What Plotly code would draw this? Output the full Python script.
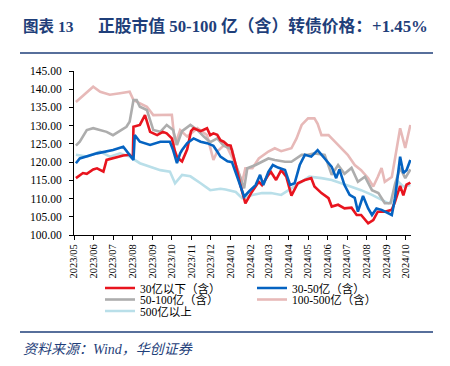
import plotly.graph_objects as go

# ---------------- data ----------------
red_dates = ["2023-05-04","2023-05-10","2023-05-15","2023-05-21","2023-05-31","2023-06-06","2023-06-16","2023-06-21","2023-06-30",
             "2023-07-07","2023-07-17","2023-07-27","2023-08-01","2023-08-02","2023-08-12","2023-08-20","2023-08-28","2023-09-08",
             "2023-09-17","2023-09-23","2023-10-01","2023-10-06","2023-10-09","2023-10-14","2023-10-17","2023-10-25","2023-10-31",
             "2023-11-04","2023-11-15","2023-11-25","2023-11-30","2023-12-05","2023-12-11","2023-12-16","2023-12-21","2023-12-27",
             "2024-01-01","2024-01-09","2024-01-16","2024-01-24","2024-02-02","2024-02-14","2024-02-19","2024-02-29","2024-03-04",
             "2024-03-12","2024-03-20","2024-03-28","2024-04-05","2024-04-15","2024-04-26","2024-05-06","2024-05-11","2024-05-22",
             "2024-06-02","2024-06-07","2024-06-17","2024-06-27","2024-07-08","2024-07-16","2024-07-23","2024-08-03","2024-08-11",
             "2024-08-18","2024-08-29","2024-09-09","2024-09-14","2024-09-22","2024-09-27","2024-10-02","2024-10-08"]
red_vals = [115.6,116.5,117.0,116.8,118.0,118.3,117.4,120.6,121.0,
            121.5,121.8,122.0,121.0,129.7,130.2,132.9,128.3,127.4,
            128.3,127.9,126.5,122.9,121.5,120.6,120.2,123.5,128.5,
            129.3,128.5,129.3,127.4,127.9,127.5,126.0,125.6,124.7,
            124.5,119.2,113.8,108.7,111.5,114.6,113.7,116.5,117.3,
            115.1,117.8,116.0,110.8,114.2,115.1,115.6,113.3,111.5,
            110.1,107.8,108.3,107.3,107.5,105.5,105.5,103.2,104.1,
            106.4,106.4,106.9,109.1,113.5,110.9,113.8,114.4]

blue_dates = ["2023-05-04","2023-05-10","2023-06-06","2023-07-01","2023-07-17","2023-07-27","2023-08-02","2023-08-04","2023-08-12",
              "2023-08-28","2023-09-13","2023-09-28","2023-10-03","2023-10-09","2023-10-14","2023-10-17","2023-10-25","2023-11-04",
              "2023-11-15","2023-11-25","2023-12-05","2023-12-11","2023-12-16","2023-12-27","2024-01-03","2024-01-14","2024-01-22",
              "2024-01-30","2024-02-09","2024-02-16","2024-02-21","2024-02-29","2024-03-07","2024-03-15","2024-03-26","2024-04-03",
              "2024-04-10","2024-04-18","2024-04-26","2024-05-06","2024-05-16","2024-05-27","2024-06-07","2024-06-14","2024-06-19",
              "2024-06-27","2024-07-05","2024-07-13","2024-07-18","2024-07-26","2024-08-03","2024-08-09","2024-08-16","2024-08-24",
              "2024-09-02","2024-09-09","2024-09-14","2024-09-22","2024-09-27","2024-10-02","2024-10-08"]
blue_vals = [119.7,121.0,122.4,123.3,124.2,122.0,120.6,127.4,125.6,
             124.7,125.6,125.6,123.3,119.7,122.4,123.3,125.2,126.5,
             125.6,125.2,124.5,122.9,121.5,120.2,120.0,114.6,110.5,
             112.0,113.7,116.5,113.7,117.3,119.2,118.5,117.8,113.7,
             114.2,119.2,122.0,121.5,123.3,121.0,118.7,115.6,118.0,
             113.7,111.0,110.2,106.4,110.7,107.3,105.5,107.3,106.9,
             106.0,105.5,110.1,121.5,117.0,117.8,120.6]

gray_dates = ["2023-05-04","2023-05-10","2023-05-21","2023-05-31","2023-06-21","2023-07-01","2023-07-22","2023-07-27","2023-08-02",
              "2023-08-07","2023-08-12","2023-08-23","2023-09-02","2023-09-13","2023-09-23","2023-10-03","2023-10-09","2023-10-17",
              "2023-10-30","2023-11-10","2023-11-20","2023-11-30","2023-12-11","2023-12-21","2024-01-03","2024-01-09","2024-01-22",
              "2024-01-27","2024-02-09","2024-02-19","2024-02-29","2024-03-10","2024-03-26","2024-04-05","2024-04-21","2024-05-01",
              "2024-05-11","2024-05-27","2024-06-07","2024-06-17","2024-06-27","2024-07-08","2024-07-18","2024-07-29","2024-08-09",
              "2024-08-19","2024-08-29","2024-09-07","2024-09-14","2024-09-22","2024-09-30","2024-10-08"]
gray_vals = [124.5,125.6,128.8,129.3,128.3,127.4,129.7,131.1,137.0,
             137.0,135.2,134.3,128.8,128.3,130.2,128.8,124.7,128.5,
             130.2,128.8,127.0,125.5,126.5,124.5,123.5,119.2,112.8,
             118.3,119.2,120.1,121.0,120.6,120.1,120.1,122.0,122.0,
             122.4,122.0,116.5,119.2,116.8,118.4,114.6,116.0,112.3,
             111.5,108.7,108.7,114.0,118.4,115.6,118.0]

pink_dates = ["2023-05-04","2023-05-21","2023-05-31","2023-06-11","2023-06-26","2023-07-12","2023-07-27","2023-08-02","2023-08-12",
              "2023-08-23","2023-09-02","2023-09-23","2023-10-01","2023-10-06","2023-10-14","2023-10-25","2023-11-10","2023-11-25",
              "2023-12-05","2023-12-11","2023-12-24","2024-01-09","2024-01-19","2024-01-24","2024-02-04","2024-02-14","2024-02-29",
              "2024-03-10","2024-03-20","2024-04-05","2024-04-13","2024-04-21","2024-05-01","2024-05-11","2024-05-16","2024-05-22",
              "2024-06-02","2024-06-12","2024-06-22","2024-07-02","2024-07-13","2024-07-23","2024-08-03","2024-08-11","2024-08-18",
              "2024-08-24","2024-08-29","2024-09-09","2024-09-14","2024-09-22","2024-09-30","2024-10-08"]
pink_vals = [136.5,139.0,140.7,139.3,138.5,138.9,139.3,137.0,136.1,
             135.2,132.9,132.9,133.0,124.7,128.8,127.0,129.3,127.4,
             120.6,122.9,125.0,119.2,114.6,118.3,118.3,121.0,122.9,
             123.8,123.0,123.8,126.5,130.2,132.0,132.0,130.5,127.4,
             127.4,125.6,123.8,122.0,119.2,117.8,115.6,113.3,115.9,
             118.4,114.6,115.9,121.0,129.3,123.9,130.2]

lblue_dates = ["2023-05-04","2023-05-21","2023-06-11","2023-06-26","2023-07-12","2023-07-27","2023-08-12","2023-08-28","2023-09-13",
               "2023-09-28","2023-10-06","2023-10-17","2023-10-30","2023-11-15","2023-11-30","2023-12-16","2023-12-24","2024-01-09",
               "2024-01-19","2024-02-04","2024-02-19","2024-03-04","2024-03-20","2024-04-05","2024-04-21","2024-05-03","2024-05-22",
               "2024-06-07","2024-06-22","2024-07-08","2024-07-23","2024-08-09","2024-08-24","2024-09-04","2024-09-12","2024-09-19",
               "2024-09-27","2024-10-08"]
lblue_vals = [122.0,121.5,122.9,121.5,122.4,121.5,119.7,118.7,117.8,
              117.4,114.2,116.5,116.1,114.2,112.3,112.7,112.5,111.8,
              110.1,111.0,111.5,111.5,111.0,112.8,114.6,116.0,115.6,
              115.1,114.2,113.3,112.3,111.0,109.6,108.7,109.5,114.6,
              113.3,113.7]

series_names = ["30亿以下（含）", "30-50亿（含）", "50-100亿（含）", "100-500亿（含）", "500亿以上"]
y_tick_vals = [100, 105, 110, 115, 120, 125, 130, 135, 140, 145]
y_tick_text = ["100.00", "105.00", "110.00", "115.00", "120.00", "125.00", "130.00", "135.00", "140.00", "145.00"]

title_label = "<b>图表 13</b>"
title_text = "<b>正股市值 50-100 亿（含）转债价格：+1.45%</b>"
source_text = "<i>资料来源：Wind，华创证券</i>"

# ---------------- figure ----------------
SERIF = "Liberation Serif, Times New Roman, Noto Sans CJK SC, serif"
NAVY = "#1F3F7A"

fig = go.Figure()
data = [
    (red_dates, red_vals, "#E8141E"),
    (blue_dates, blue_vals, "#0563C1"),
    (gray_dates, gray_vals, "#ADADAD"),
    (pink_dates, pink_vals, "#E7B9B8"),
    (lblue_dates, lblue_vals, "#B9DFE9"),
]
legend_of = ["legend", "legend", "legend2", "legend2", "legend3"]
draw_order = [4, 3, 2, 0, 1]
traces = {}
for i, (d, v, c) in enumerate(data):
    traces[i] = go.Scatter(x=d, y=v, mode="lines", name=series_names[i],
                           line=dict(color=c, width=2.6), legendrank=i + 1,
                           legend=legend_of[i])
for i in draw_order:
    fig.add_trace(traces[i])

L, R, T, B = 74, 39, 71, 131
W, H = 450, 366
pw, ph = W - L - R, H - T - B

def px_x(px):
    return (px - L) / pw

def px_y(py):
    return (H - B - py) / ph

def leg(row_y):
    return dict(orientation="h", x=px_x(100), y=px_y(row_y), xanchor="left", yanchor="middle",
                entrywidth=107, entrywidthmode="pixels", traceorder="normal",
                font=dict(family=SERIF, size=11.5, color="#000000"),
                bgcolor="rgba(0,0,0,0)", itemwidth=30, tracegroupgap=0)

fig.update_layout(
    width=W, height=H,
    margin=dict(l=L, r=R, t=T, b=B),
    paper_bgcolor="white", plot_bgcolor="white",
    font=dict(family=SERIF, size=11, color="#000000"),
    showlegend=True,
    legend=leg(288), legend2=leg(299.5), legend3=leg(311),
    xaxis=dict(type="date", range=["2023-05-01", "2024-10-09"], tick0="2023-05-01", dtick="M1",
               tickformat="%Y/%m", tickangle=-90, showgrid=False, zeroline=False,
               showline=True, linecolor="#000000", linewidth=1, ticks="outside", ticklen=4,
               tickcolor="#000000", tickfont=dict(family=SERIF, size=10.5)),
    yaxis=dict(range=[100, 145], tickvals=y_tick_vals, ticktext=y_tick_text, showgrid=False,
               zeroline=False, showline=True, linecolor="#000000", linewidth=1, ticks="outside",
               ticklen=4, tickcolor="#000000", tickfont=dict(family=SERIF, size=11.5),
               ticklabelstandoff=5),
)

fig.add_annotation(text=title_label, xref="paper", yref="paper", x=px_x(21), y=px_y(26),
                   xanchor="left", yanchor="middle", showarrow=False,
                   font=dict(family="Liberation Serif, Noto Sans CJK SC, serif", size=15.5, color=NAVY))
fig.add_annotation(text=title_text, xref="paper", yref="paper", x=px_x(96), y=px_y(26),
                   xanchor="left", yanchor="middle", showarrow=False,
                   font=dict(family="Liberation Serif, Noto Sans CJK SC, serif", size=16.8, color=NAVY))
fig.add_annotation(text=source_text, xref="paper", yref="paper", x=px_x(21), y=px_y(349),
                   xanchor="left", yanchor="middle", showarrow=False,
                   font=dict(family="Liberation Serif, Noto Sans CJK SC, serif", size=14, color=NAVY))
fig.add_shape(type="line", xref="paper", yref="paper", x0=px_x(20), x1=px_x(433), y0=px_y(53), y1=px_y(53),
              line=dict(color=NAVY, width=1.5))
fig.add_shape(type="line", xref="paper", yref="paper", x0=px_x(20), x1=px_x(433), y0=px_y(332), y1=px_y(332),
              line=dict(color=NAVY, width=1.5))

fig.write_html("out.html", config={"displayModeBar": False},
               post_script="document.body.style.margin='0';")
